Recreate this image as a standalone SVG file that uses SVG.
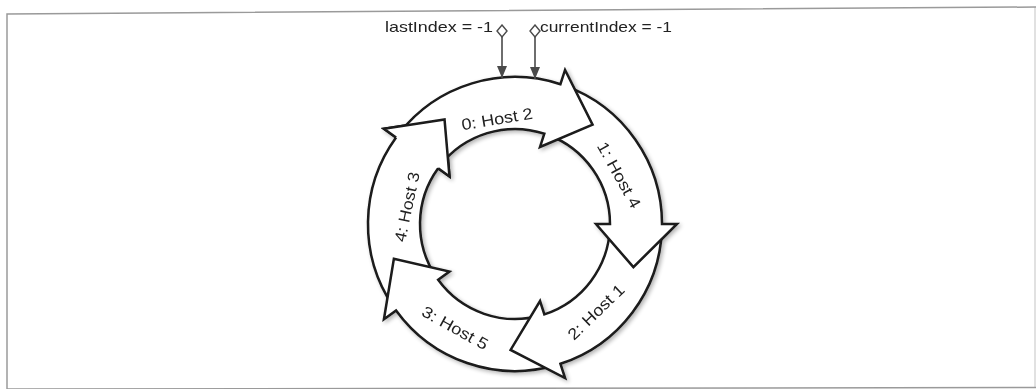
<svg xmlns="http://www.w3.org/2000/svg" width="1036" height="389" viewBox="0 0 1036 389">
<style>
.arrow{fill:#fff;stroke:#1a1a1a;stroke-width:2.5;stroke-linejoin:miter}
.lbl{font-family:"Liberation Sans",Arial,sans-serif;font-size:16px;fill:#222;text-anchor:middle;dominant-baseline:central}
.top{font-family:"Liberation Sans",Arial,sans-serif;font-size:15px;fill:#222}
.ptr{stroke:#4a4a4a;stroke-width:1.6;fill:none}
.frame{stroke:#9a9a9a;stroke-width:1.5;fill:none}
</style>
<defs>
<filter id="shadow" x="-10%" y="-10%" width="130%" height="130%">
<feGaussianBlur in="SourceAlpha" stdDeviation="2"/>
<feOffset dx="2" dy="2"/>
<feComponentTransfer><feFuncA type="linear" slope="0.3"/></feComponentTransfer>
<feMerge><feMergeNode/><feMergeNode in="SourceGraphic"/></feMerge>
</filter>
<marker id="diamond" markerUnits="userSpaceOnUse" viewBox="-1 -1 14 12" refX="0" refY="5" markerWidth="14" markerHeight="12" orient="auto">
<path d="M0,5 L6,0 L12,5 L6,10 Z" fill="#fff" stroke="#4a4a4a" stroke-width="1.4"/>
</marker>
<marker id="tri" markerUnits="userSpaceOnUse" viewBox="0 0 12 10" refX="12" refY="5" markerWidth="12" markerHeight="10" orient="auto">
<path d="M0,0 L12,5 L0,10 Z" fill="#4a4a4a"/>
</marker>
</defs>
<rect width="1036" height="389" fill="#fff"/>
<g id="frame">
<path class="frame" d="M7,389 L7,14 L1036,7"/>
<path class="frame" d="M7,389 L1036,387.5"/>
<path class="frame" d="M1035,7 L1035,388" stroke-opacity="0.4"/>
</g>
<g id="ring" filter="url(#shadow)">
<g id="node-4">
<path class="arrow" d="M393.13,306.20 A147,147 0 0 1 396.07,137.59 L383.94,128.78 L444.54,119.54 L449.47,176.39 L438.14,168.16 A95,95 0 0 0 436.24,277.12 Z"/>
<text class="lbl" transform="translate(407,207) rotate(-78)" textLength="71" lengthAdjust="spacingAndGlyphs">4: Host 3</text>
</g>
<g id="node-3">
<path class="arrow" d="M555.52,365.31 A147,147 0 0 1 396.07,310.41 L383.94,319.22 L393.88,258.73 L449.47,271.61 L438.14,279.84 A95,95 0 0 0 541.19,315.32 Z"/>
<text class="lbl" transform="translate(455,328) rotate(29)" textLength="73" lengthAdjust="spacingAndGlyphs">3: Host 5</text>
</g>
<g id="node-2">
<path class="arrow" d="M661.91,229.13 A147,147 0 0 1 560.43,363.81 L565.06,378.07 L510.60,349.92 L540.03,301.04 L544.36,314.35 A95,95 0 0 0 609.94,227.32 Z"/>
<text class="lbl" transform="translate(596,312) rotate(-44)" textLength="72" lengthAdjust="spacingAndGlyphs">2: Host 1</text>
</g>
<g id="node-1">
<path class="arrow" d="M565.28,85.87 A147,147 0 0 1 662,224 L677,224 L633.40,267.09 L596,224 L610,224 A95,95 0 0 0 547.49,134.73 Z"/>
<text class="lbl" transform="translate(619,175) rotate(61)" textLength="73" lengthAdjust="spacingAndGlyphs">1: Host 4</text>
</g>
<g id="node-0">
<path class="arrow" d="M399.16,133.50 A147,147 0 0 1 560.43,84.19 L565.06,69.93 L592.57,124.71 L540.03,146.96 L544.36,133.65 A95,95 0 0 0 440.14,165.51 Z"/>
<text class="lbl" transform="translate(497,119) rotate(-9.5)" textLength="72" lengthAdjust="spacingAndGlyphs">0: Host 2</text>
</g>
<g id="node-4-head">
<polygon points="396.07,137.59 383.94,128.78 444.54,119.54 449.47,176.39 438.14,168.16" fill="#fff" stroke="none"/>
<polyline points="396.07,137.59 383.94,128.78 444.54,119.54 449.47,176.39 438.14,168.16" fill="none" stroke="#1a1a1a" stroke-width="2.5"/>
</g>
</g>
<g id="lastIndex">
<text class="top" x="385" y="32" textLength="108" lengthAdjust="spacingAndGlyphs">lastIndex = -1</text>
</g>
<g id="currentIndex">
<text class="top" x="540" y="32" textLength="132" lengthAdjust="spacingAndGlyphs">currentIndex = -1</text>
</g>
<g id="connectors">
<path class="ptr" d="M502,25 L502,78" marker-start="url(#diamond)" marker-end="url(#tri)"/>
<path class="ptr" d="M535,25 L535,79" marker-start="url(#diamond)" marker-end="url(#tri)"/>
</g>
</svg>
